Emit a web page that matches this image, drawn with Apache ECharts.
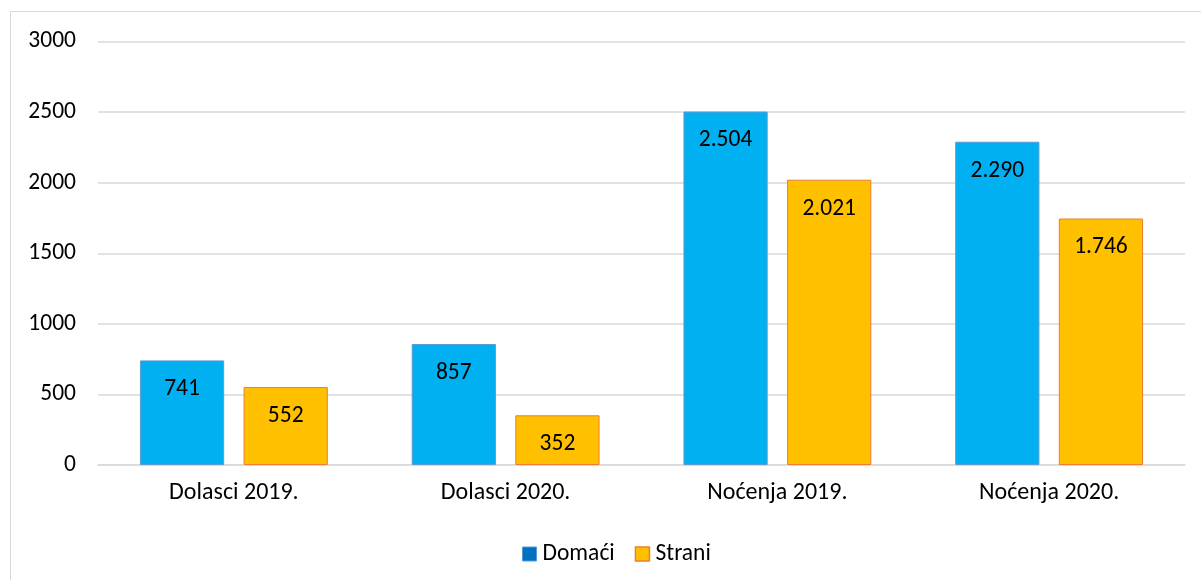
<!DOCTYPE html>
<html><head><meta charset="utf-8">
<script src="https://cdn.jsdelivr.net/npm/echarts@6/dist/echarts.min.js"></script>
<style>
html,body{margin:0;padding:0;background:#fff;}
#frame{position:absolute;left:10px;top:11px;width:1200px;height:580px;border:1px solid #d9d9d9;box-sizing:border-box;}
#c{position:absolute;left:0;top:0;width:1201px;height:580px;}
</style></head>
<body><div id="frame"></div><div id="c"></div>
<script>
const categories = ['Dolasci 2019.', 'Dolasci 2020.', 'Noćenja 2019.', 'Noćenja 2020.'];
const domaci = [741, 857, 2504, 2290];
const strani = [552, 352, 2021, 1746];
const yTicks = [0, 500, 1000, 1500, 2000, 2500, 3000];

const fmt = v => String(v).replace(/\B(?=(\d{3})+(?!\d))/g, '.');
const font = 'Carlito, Calibri, "Liberation Sans", "Open Sans", sans-serif';
const chart = echarts.init(document.getElementById('c'));
chart.setOption({
  animation: false,
  textStyle: { fontFamily: font },
  grid: { left: 98, right: 16, top: 41.5, bottom: 115, containLabel: false },
  legend: {
    top: 537, left: 517, itemWidth: 14, itemHeight: 14, itemGap: 20,
    textStyle: { fontSize: 23.5, color: '#000', fontFamily: font, padding: [0, 0, 0, 1] },
    data: [
      { name: 'Domaći', icon: 'rect', itemStyle: { color: '#0070C0', borderColor: '#5B9BD5', borderWidth: 1 } },
      { name: 'Strani', icon: 'rect', itemStyle: { color: '#FFC000', borderColor: '#ED7D31', borderWidth: 1.5 } }
    ]
  },
  xAxis: {
    type: 'category', data: categories,
    axisLine: { show: true, lineStyle: { color: '#d9d9d9', width: 1.5 } },
    axisTick: { show: false },
    axisLabel: { fontSize: 24, color: '#000', margin: 16, fontFamily: font }
  },
  yAxis: {
    type: 'value', min: yTicks[0], max: yTicks[yTicks.length - 1], interval: 500,
    axisLine: { show: false }, axisTick: { show: false },
    splitLine: { lineStyle: { color: '#d9d9d9', width: 1.5 } },
    axisLabel: { fontSize: 23.5, color: '#000', margin: 22, fontFamily: font, formatter: v => String(v) }
  },
  series: [
    { name: 'Domaći', type: 'bar', data: domaci, barWidth: '31%', barGap: '23%',
      itemStyle: { color: '#00B0F0', borderColor: '#5B9BD5', borderWidth: 1 },
      label: { show: true, position: 'insideTop', distance: 17, fontSize: 23.5, color: '#000', fontFamily: font, formatter: p => fmt(p.value) } },
    { name: 'Strani', type: 'bar', data: strani, barWidth: '31%',
      itemStyle: { color: '#FFC000', borderColor: '#ED7D31', borderWidth: 1 },
      label: { show: true, position: 'insideTop', distance: 17, fontSize: 23.5, color: '#000', fontFamily: font, formatter: p => fmt(p.value) } }
  ]
});
</script></body></html>
